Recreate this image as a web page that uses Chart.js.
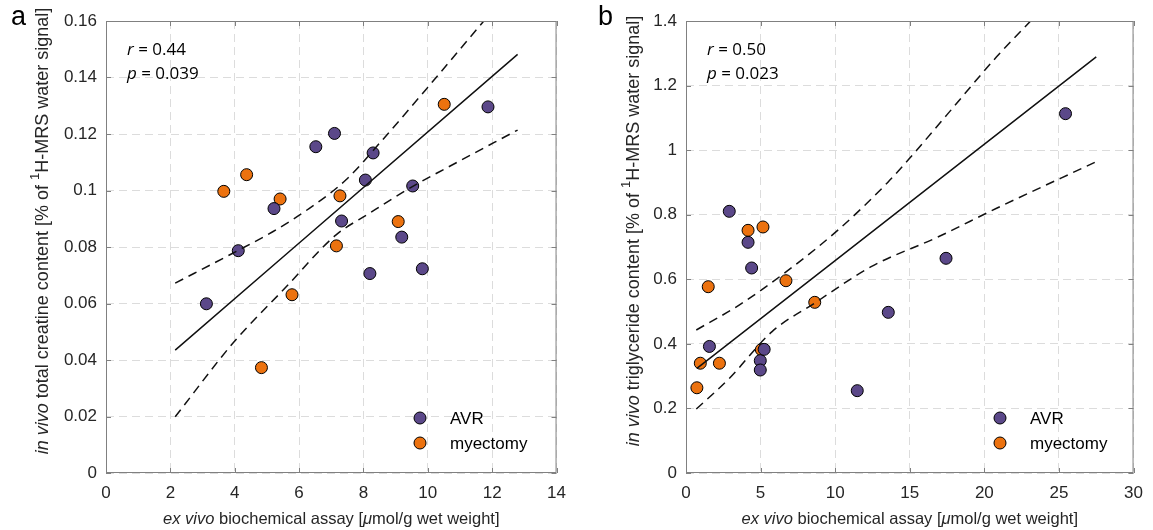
<!DOCTYPE html>
<html>
<head>
<meta charset="utf-8">
<title>creatine and triglyceride vs biochemical assay</title>
<script src="https://cdn.jsdelivr.net/npm/chart.js@4.4.0/dist/chart.umd.min.js"></script>
<style>
    body { margin: 0; background: #fff; }
    canvas { position: absolute; top: 0; }
    #chartA { left: 0; }
    #chartB { left: 576px; }
</style>
</head>
<body>
<canvas id="chartA" width="576" height="530"></canvas>
<canvas id="chartB" width="577" height="530"></canvas>
<script>
// Panel a: total creatine (x = ex vivo assay, y = in vivo)
const avrCrX = [3.12, 4.11, 5.22, 6.52, 7.10, 7.32, 8.06, 8.20, 8.30, 9.19, 9.53, 9.83, 11.87];
const avrCrY = [0.0599, 0.0787, 0.0936, 0.1155, 0.1202, 0.0892, 0.1037, 0.0706, 0.1133, 0.0835, 0.1016, 0.0723, 0.1296];
const myeCrX = [3.66, 4.37, 4.83, 5.41, 5.78, 7.16, 7.27, 9.08, 10.51];
const myeCrY = [0.0997, 0.1056, 0.0373, 0.0970, 0.0631, 0.0804, 0.0981, 0.0890, 0.1305];

// regression line and confidence band
const fitCrX = [2.15, 12.79];
const fitCrY = [0.0435, 0.1482];
const upCrX = [2.15, 3.94, 5.18, 6.32, 7.45, 8.59, 9.93, 11.74];
const upCrY = [0.0672, 0.0778, 0.0854, 0.0937, 0.1037, 0.1179, 0.1356, 0.16];
const loCrX = [2.15, 3.94, 5.60, 7.14, 8.18, 9.52, 10.65, 12.79];
const loCrY = [0.0199, 0.0459, 0.0659, 0.0842, 0.0919, 0.1014, 0.1084, 0.1214];

const xTicksA = [0, 2, 4, 6, 8, 10, 12, 14];
const xLabelsA = ['0', '2', '4', '6', '8', '10', '12', '14'];
const yTicksA = [0, 0.02, 0.04, 0.06, 0.08, 0.1, 0.12, 0.14, 0.16];
const yLabelsA = ['0', '0.02', '0.04', '0.06', '0.08', '0.1', '0.12', '0.14', '0.16'];

// Panel b: triglyceride
const avrTgX = [1.57, 2.90, 4.16, 4.40, 4.98, 4.98, 5.24, 11.48, 13.56, 17.43, 25.44];
const avrTgY = [0.392, 0.8105, 0.7145, 0.635, 0.348, 0.319, 0.383, 0.255, 0.4976, 0.665, 1.113];
const myeTgX = [0.73, 0.96, 1.49, 2.24, 4.16, 5.05, 5.16, 6.70, 8.63];
const myeTgY = [0.264, 0.340, 0.577, 0.340, 0.7516, 0.382, 0.762, 0.5956, 0.5286];

const fitTgX = [0.73, 27.5];
const fitTgY = [0.324, 1.289];
const upTgX = [0.69, 3.56, 6.88, 10.2, 13.52, 15.18, 17.5, 20.82, 23.1];
const upTgY = [0.443, 0.520, 0.629, 0.753, 0.90, 0.985, 1.11, 1.289, 1.40];
const loTgX = [0.69, 2.90, 5.77, 8.65, 12.41, 16.84, 20.82, 27.4];
const loTgY = [0.198, 0.293, 0.438, 0.527, 0.639, 0.730, 0.820, 0.962];

const xTicksB = [0, 5, 10, 15, 20, 25, 30];
const xLabelsB = ['0', '5', '10', '15', '20', '25', '30'];
const yTicksB = [0, 0.2, 0.4, 0.6, 0.8, 1, 1.2, 1.4];
const yLabelsB = ['0', '0.2', '0.4', '0.6', '0.8', '1', '1.2', '1.4'];

const groupNames = ['AVR', 'myectomy'];
const purple = '#5b4889';
const orange = '#ec720f';
const tickFont = '"Liberation Sans", Arial, sans-serif';

const pts = (xs, ys) => xs.map((x, i) => ({ x: x, y: ys[i] }));

// rich text: parts are {t, it, sup}
const partFont = (p, size) => `${p.it ? 'italic ' : ''}${p.sup ? Math.round(size * 0.7) : size}px ${tickFont}`;
const drawRich = (ctx, parts, size, cx, cy) => {
    let total = 0;
    parts.forEach(p => { ctx.font = partFont(p, size); total += ctx.measureText(p.t).width; });
    let x = cx - total / 2;
    ctx.textAlign = 'left';
    ctx.textBaseline = 'middle';
    parts.forEach(p => {
        ctx.font = partFont(p, size);
        ctx.fillText(p.t, x, p.sup ? cy - size * 0.42 : cy);
        x += ctx.measureText(p.t).width;
    });
};

// MATLAB style box, inward ticks, titles, stats text and legend
const panelPlugin = {
    id: 'panel',
    afterDraw(chart, args, o) {
        const { ctx, chartArea: a, scales: { x, y } } = chart;
        ctx.save();
        ctx.strokeStyle = '#808080';
        ctx.lineWidth = 1;
        ctx.strokeRect(a.left + 0.5, a.top + 0.5, a.right - a.left - 1, a.bottom - a.top - 1);
        ctx.beginPath();
        x.ticks.forEach(t => {
            const px = Math.round(x.getPixelForValue(t.value)) + 0.5;
            ctx.moveTo(px, a.bottom); ctx.lineTo(px, a.bottom - 5);
            ctx.moveTo(px, a.top); ctx.lineTo(px, a.top + 5);
        });
        y.ticks.forEach(t => {
            const py = Math.round(y.getPixelForValue(t.value)) + 0.5;
            ctx.moveTo(a.left, py); ctx.lineTo(a.left + 5, py);
            ctx.moveTo(a.right, py); ctx.lineTo(a.right - 5, py);
        });
        ctx.stroke();

        ctx.fillStyle = '#000';
        ctx.font = `27px ${tickFont}`;
        ctx.textBaseline = 'alphabetic';
        ctx.fillText(o.letter, o.letterX, 25);

        ctx.fillStyle = '#262626';
        drawRich(ctx, o.xTitle, 16.5, (a.left + a.right) / 2, 519);
        ctx.save();
        ctx.translate(o.yTitleX, o.yTitleY);
        ctx.rotate(-Math.PI / 2);
        drawRich(ctx, o.yTitle, 18, 0, 0);
        ctx.restore();

        // r and p
        ctx.fillStyle = '#000';
        ctx.textBaseline = 'alphabetic';
        const sx = a.left + 21;
        [[o.r, 'r', 55], [o.p, 'p', 79]].forEach(([val, sym, by]) => {
            ctx.font = 'italic 17px "Open Sans", sans-serif';
            ctx.fillText(sym, sx, by);
            const w = ctx.measureText(sym).width;
            ctx.font = '17px "Open Sans", sans-serif';
            ctx.fillText(' = ' + val, sx + w, by);
        });

        // legend
        [purple, orange].forEach((c, i) => {
            const ly = o.legendY + i * 25;
            ctx.beginPath();
            ctx.arc(o.legendX, ly, 6, 0, Math.PI * 2);
            ctx.fillStyle = c;
            ctx.fill();
            ctx.strokeStyle = '#000';
            ctx.stroke();
            ctx.fillStyle = '#000';
            ctx.font = `17px ${tickFont}`;
            ctx.textBaseline = 'middle';
            ctx.fillText(groupNames[i], o.legendX + 30, ly + 1);
        });
        ctx.restore();
    }
};

const makeChart = (id, cfg) => {
    const scatterSet = (xs, ys, color) => ({
        data: pts(xs, ys), backgroundColor: color, borderColor: '#000', borderWidth: 1,
        pointRadius: 6, pointHoverRadius: 6, order: 2
    });
    const lineSet = (xs, ys, dash) => ({
        data: pts(xs, ys), showLine: true, borderColor: '#111', borderWidth: 1.5,
        borderDash: dash, pointRadius: 0, cubicInterpolationMode: 'monotone', order: 1
    });
    return new Chart(document.getElementById(id), {
        type: 'scatter',
        data: {
            datasets: [
                scatterSet(cfg.avrX, cfg.avrY, purple),
                scatterSet(cfg.myeX, cfg.myeY, orange),
                lineSet(cfg.fitX, cfg.fitY, []),
                lineSet(cfg.upX, cfg.upY, [9, 6]),
                lineSet(cfg.loX, cfg.loY, [9, 6])
            ]
        },
        options: {
            responsive: false,
            animation: false,
            layout: { padding: { left: 0, top: 21, right: cfg.padRight, bottom: 0 } },
            scales: {
                x: {
                    type: 'linear', min: cfg.xTicks[0], max: cfg.xTicks[cfg.xTicks.length - 1],
                    afterBuildTicks: s => { s.ticks = cfg.xTicks.map(v => ({ value: v })); },
                    afterFit: s => { s.height = 57; },
                    ticks: {
                        callback: (v, i) => cfg.xLabels[i], padding: 10,
                        color: '#262626', font: { family: tickFont, size: 17 }, maxRotation: 0
                    },
                    grid: { color: '#dcdcdc', drawTicks: false },
                    border: { display: false, dash: [8, 5] }
                },
                y: {
                    type: 'linear', min: cfg.yTicks[0], max: cfg.yTicks[cfg.yTicks.length - 1],
                    afterBuildTicks: s => { s.ticks = cfg.yTicks.map(v => ({ value: v })); },
                    afterFit: s => { s.width = cfg.yWidth; },
                    ticks: {
                        callback: (v, i) => cfg.yLabels[i], padding: 9,
                        color: '#262626', font: { family: tickFont, size: 17 }
                    },
                    grid: { color: '#dcdcdc', drawTicks: false },
                    border: { display: false, dash: [8, 5] }
                }
            },
            plugins: {
                legend: { display: false },
                tooltip: { enabled: false },
                panel: cfg.panel
            }
        },
        plugins: [panelPlugin]
    });
};

const xTitle = [
    { t: 'ex vivo', it: true }, { t: ' biochemical assay [' },
    { t: '\u03bc', it: true }, { t: 'mol/g wet weight]' }
];

makeChart('chartA', {
    avrX: avrCrX, avrY: avrCrY, myeX: myeCrX, myeY: myeCrY,
    fitX: fitCrX, fitY: fitCrY, upX: upCrX, upY: upCrY, loX: loCrX, loY: loCrY,
    xTicks: xTicksA, xLabels: xLabelsA, yTicks: yTicksA, yLabels: yLabelsA,
    yWidth: 106, padRight: 18,
    panel: {
        letter: 'a', letterX: 11, r: '0.44', p: '0.039',
        legendX: 420, legendY: 418, yTitleX: 43, yTitleY: 231,
        xTitle: xTitle,
        yTitle: [{ t: 'in vivo', it: true }, { t: ' total creatine content [% of ' }, { t: '1', sup: true }, { t: 'H-MRS water signal]' }]
    }
});

makeChart('chartB', {
    avrX: avrTgX, avrY: avrTgY, myeX: myeTgX, myeY: myeTgY,
    fitX: fitTgX, fitY: fitTgY, upX: upTgX, upY: upTgY, loX: loTgX, loY: loTgY,
    xTicks: xTicksB, xLabels: xLabelsB, yTicks: yTicksB, yLabels: yLabelsB,
    yWidth: 110, padRight: 15,
    panel: {
        letter: 'b', letterX: 22, r: '0.50', p: '0.023',
        legendX: 424, legendY: 418, yTitleX: 58, yTitleY: 231,
        xTitle: xTitle,
        yTitle: [{ t: 'in vivo', it: true }, { t: ' triglyceride content [% of ' }, { t: '1', sup: true }, { t: 'H-MRS water signal]' }]
    }
});
</script>
</body>
</html>
